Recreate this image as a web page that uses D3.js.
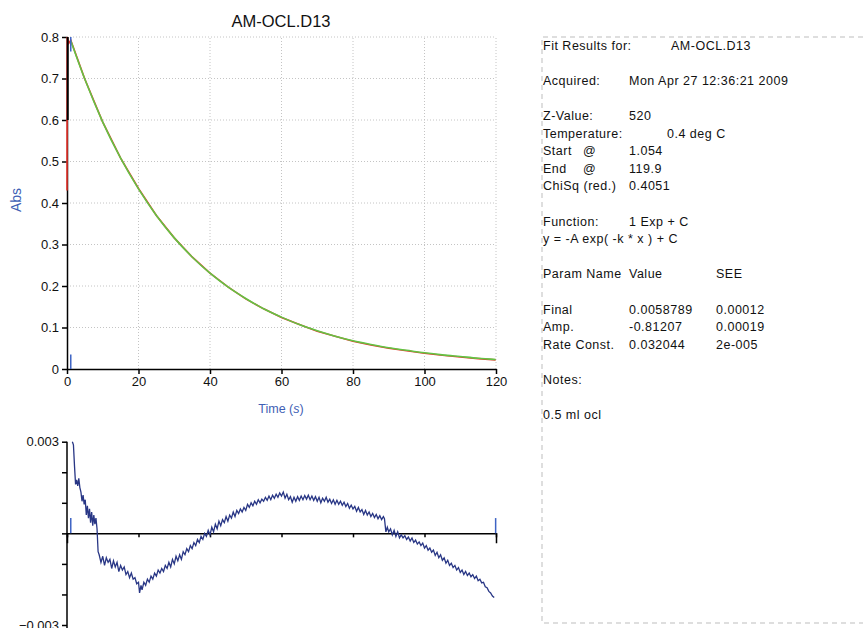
<!DOCTYPE html>
<html>
<head>
<meta charset="utf-8">
<script src="https://cdn.jsdelivr.net/npm/d3@7"></script>
<style>
  body { margin: 0; background: #fff; }
  text { font-family: "Liberation Sans", Arial, sans-serif; }
</style>
</head>
<body>
<div id="chart"></div>
<script>
// fitted curve
const fitTime = [1.054, 5, 10, 15, 20, 25, 30, 35, 40, 45, 50, 55, 60, 65, 70, 75, 80, 85, 90, 95, 100, 105, 110, 115, 119.9];
const fitAbs = [0.791, 0.698, 0.595, 0.508, 0.434, 0.370, 0.316, 0.270, 0.231, 0.198, 0.170, 0.145, 0.125, 0.107, 0.092, 0.079, 0.068, 0.059, 0.051, 0.045, 0.039, 0.034, 0.030, 0.026, 0.023];

// raw trace (red), incl. the mixing spike at t = 0
const rawTime = [0, 0.05, 0.5, 1.054, 5, 10, 15, 20, 25, 30, 35, 40, 45, 50, 55, 60, 65, 70, 75, 80, 85, 90, 95, 100, 105, 110, 115, 119.9];
const rawAbs = [0.43, 0.80, 0.785, 0.792, 0.698, 0.595, 0.508, 0.435, 0.370, 0.316, 0.270, 0.231, 0.198, 0.169, 0.145, 0.124, 0.107, 0.091, 0.079, 0.067, 0.058, 0.050, 0.044, 0.038, 0.033, 0.029, 0.025, 0.022];

// dead-time segment (black)
const deadTime = [0.2, 0.2];
const deadAbs = [0.6, 0.8];

const startTime = 1.054, endTime = 119.9;

// residuals in units of 0.001 Abs
const resTime = [1.5, 1.8, 2.1, 2.4, 2.7, 3.0, 3.3, 3.6, 3.9, 4.2, 4.5, 4.8, 5.1, 5.4, 5.7, 6.0, 6.3, 6.6, 6.9, 7.2, 7.5, 7.8, 8.1, 8.4, 8.7,
  9, 9.5, 10, 10.5, 11, 11.5, 12, 12.5, 13, 13.5, 14, 14.5, 15, 15.5, 16, 16.5, 17, 17.5, 18, 18.5, 19, 19.5, 20, 20.3, 20.7, 21, 21.5,
  22, 22.5, 23, 23.5, 24, 24.5, 25, 25.5, 26, 26.5, 27, 27.5, 28, 28.5, 29, 29.5, 30, 30.5, 31, 31.5, 32, 32.5, 33, 33.5, 34, 34.5,
  35, 35.5, 36, 36.5, 37, 37.5, 38, 38.5, 39, 39.5, 40, 40.5, 41, 41.5, 42, 42.5, 43, 43.5, 44, 44.5, 45, 45.5, 46, 46.5, 47, 47.5,
  48, 48.5, 49, 49.5, 50, 50.5, 51, 51.5, 52, 52.5, 53, 53.5, 54, 54.5, 55, 55.5, 56, 56.5, 57, 57.5, 58, 58.5, 59, 59.5, 60, 60.5,
  61, 61.5, 62, 62.5, 63, 63.5, 64, 64.5, 65, 65.5, 66, 66.5, 67, 67.5, 68, 68.5, 69, 69.5, 70, 70.5, 71, 71.5, 72, 72.5, 73, 73.5,
  74, 74.5, 75, 75.5, 76, 76.5, 77, 77.5, 78, 78.5, 79, 79.5, 80, 80.5, 81, 81.5, 82, 82.5, 83, 83.5, 84, 84.5, 85, 85.5, 86, 86.5,
  87, 87.5, 88, 88.5, 88.8, 89.2, 89.6, 90, 90.5, 91, 91.5, 92, 92.5, 93, 93.5, 94, 94.5, 95, 95.5, 96, 96.5, 97, 97.5, 98, 98.5,
  99, 99.5, 100, 100.5, 101, 101.5, 102, 102.5, 103, 103.5, 104, 104.5, 105, 105.5, 106, 106.5, 107, 107.5, 108, 108.5, 109, 109.5,
  110, 110.5, 111, 111.5, 112, 112.5, 113, 113.5, 114, 114.5, 115, 115.5, 116, 116.5, 117, 117.5, 118, 118.5, 119, 119.5];
const resMilli = [3.0, 2.9, 2.2, 1.6, 1.75, 1.55, 1.8, 1.5, 1.35, 1.05, 1.25, 0.95, 1.1, 0.6, 0.9, 0.5, 0.8, 0.35, 0.7, 0.25, 0.6, 0.3, 0.5, 0.15, -0.6,
  -0.70, -0.95, -0.75, -1.05, -0.80, -0.95, -0.85, -1.15, -0.90, -1.10, -0.95, -1.25, -1.05, -1.20, -1.10, -1.35, -1.25, -1.45, -1.30, -1.50, -1.45, -1.65, -1.60, -1.95, -1.70, -1.85, -1.60,
  -1.70, -1.50, -1.60, -1.40, -1.50, -1.30, -1.40, -1.20, -1.30, -1.15, -1.25, -1.05, -1.15, -0.95, -1.10, -0.85, -1.00, -0.75, -0.90, -0.70, -0.85, -0.60, -0.70, -0.50, -0.60, -0.40,
  -0.50, -0.30, -0.40, -0.20, -0.30, -0.10, -0.20, 0.00, -0.10, 0.10, -0.05, 0.20, 0.05, 0.30, 0.15, 0.40, 0.25, 0.45, 0.35, 0.55, 0.40, 0.60, 0.50, 0.70, 0.55, 0.75,
  0.65, 0.80, 0.70, 0.85, 0.75, 0.95, 0.85, 1.00, 0.90, 1.05, 0.95, 1.10, 1.00, 1.12, 1.05, 1.18, 1.08, 1.22, 1.10, 1.25, 1.15, 1.28, 1.18, 1.32, 1.22, 1.35,
  1.15, 1.28, 1.10, 1.20, 1.02, 1.18, 1.05, 1.20, 1.08, 1.22, 1.10, 1.24, 1.12, 1.25, 1.10, 1.22, 1.08, 1.20, 1.05, 1.18, 1.00, 1.15, 1.05, 1.18, 1.02, 1.12,
  0.98, 1.10, 0.95, 1.08, 0.95, 1.05, 0.92, 1.02, 0.88, 0.98, 0.82, 0.92, 0.80, 0.88, 0.72, 0.85, 0.70, 0.78, 0.62, 0.75, 0.60, 0.70, 0.55, 0.65, 0.52, 0.62,
  0.48, 0.58, 0.45, 0.55, 0.48, 0.05, 0.20, 0.05, 0.15, -0.05, 0.10, -0.10, 0.05, -0.15, -0.05, -0.15, -0.08, -0.20, -0.12, -0.25, -0.15, -0.30, -0.22, -0.35, -0.28,
  -0.40, -0.32, -0.48, -0.40, -0.55, -0.48, -0.62, -0.55, -0.72, -0.62, -0.80, -0.70, -0.88, -0.80, -0.98, -0.88, -1.05, -0.98, -1.12, -1.05, -1.20, -1.12,
  -1.28, -1.20, -1.35, -1.25, -1.38, -1.30, -1.42, -1.35, -1.48, -1.40, -1.55, -1.50, -1.62, -1.60, -1.75, -1.78, -1.90, -1.95, -2.05, -2.10];

const xTicks = [0, 20, 40, 60, 80, 100, 120];
const yTicks = [0, 0.1, 0.2, 0.3, 0.4, 0.5, 0.6, 0.7, 0.8];
const resTicks = [-3, -2, -1, 0, 1, 2, 3];

// fit report text: [row, column, text]
const report = [
  [0, "a", "Fit Results for:"], [0, "e", "AM-OCL.D13"],
  [2, "a", "Acquired:"], [2, "c", "Mon Apr 27 12:36:21 2009"],
  [4, "a", "Z-Value:"], [4, "c", "520"],
  [5, "a", "Temperature:"], [5, "d", "0.4 deg C"],
  [6, "a", "Start"], [6, "b", "@"], [6, "c", "1.054"],
  [7, "a", "End"], [7, "b", "@"], [7, "c", "119.9"],
  [8, "a", "ChiSq (red.)"], [8, "c", "0.4051"],
  [10, "a", "Function:"], [10, "c", "1 Exp + C"],
  [11, "a", "y = -A exp( -k * x ) + C"],
  [13, "a", "Param Name"], [13, "c", "Value"], [13, "f", "SEE"],
  [15, "a", "Final"], [15, "c", "0.0058789"], [15, "f", "0.00012"],
  [16, "a", "Amp."], [16, "c", "-0.81207"], [16, "f", "0.00019"],
  [17, "a", "Rate Const."], [17, "c", "0.032044"], [17, "f", "2e-005"],
  [19, "a", "Notes:"],
  [21, "a", "0.5 ml ocl"]
];

const width = 863, height = 628;

const svg = d3.select("#chart")
  .append("svg")
  .attr("width", width)
  .attr("height", height);

svg.append("rect")
  .attr("width", width)
  .attr("height", height)
  .attr("fill", "#fff");

const xScale = d3.scaleLinear().domain([0, 120]).range([67, 496]);
const yScale = d3.scaleLinear().domain([0, 0.8]).range([369, 37]);
const rScale = d3.scaleLinear().domain([-3, 3]).range([625, 441.7]);

// grid
svg.append("g")
  .selectAll("line")
  .data(xTicks.slice(1))
  .join("line")
  .attr("x1", d => xScale(d)).attr("x2", d => xScale(d))
  .attr("y1", yScale(0)).attr("y2", yScale(0.8))
  .attr("stroke", "#c4c4c4")
  .attr("stroke-dasharray", "1,2");

svg.append("g")
  .selectAll("line")
  .data(yTicks.slice(1))
  .join("line")
  .attr("x1", xScale(0)).attr("x2", xScale(120))
  .attr("y1", d => yScale(d)).attr("y2", d => yScale(d))
  .attr("stroke", "#c4c4c4")
  .attr("stroke-dasharray", "1,2");

// axes
function styleAxis(g) {
  g.selectAll("path, line").attr("stroke", "#000").attr("stroke-width", 1.5);
  g.selectAll("text")
    .attr("fill", "#111")
    .style("font-size", "13px")
    .style("font-family", "'Liberation Sans', Arial, sans-serif");
}

svg.append("g")
  .attr("transform", `translate(0,${yScale(0)})`)
  .call(d3.axisBottom(xScale).tickValues(xTicks).tickSize(5).tickSizeOuter(0).tickPadding(3))
  .call(styleAxis);

svg.append("g")
  .attr("transform", `translate(${xScale(0)},0)`)
  .call(d3.axisLeft(yScale).tickValues(yTicks).tickSize(5).tickSizeOuter(0).tickPadding(3).tickFormat(d => d === 0 ? "0" : d3.format(".1f")(d)))
  .call(styleAxis);

// traces
const line = d3.line().x(d => xScale(d[0])).y(d => yScale(d[1]));

svg.append("path")
  .datum(d3.zip(rawTime, rawAbs))
  .attr("d", line)
  .attr("fill", "none")
  .attr("stroke", "#e8332b")
  .attr("stroke-width", 1.6);

svg.append("path")
  .datum(d3.zip(deadTime, deadAbs))
  .attr("d", line)
  .attr("fill", "none")
  .attr("stroke", "#000")
  .attr("stroke-width", 2);

svg.append("path")
  .datum(d3.zip(fitTime, fitAbs))
  .attr("d", line.curve(d3.curveMonotoneX))
  .attr("fill", "none")
  .attr("stroke", "#62c444")
  .attr("stroke-width", 1.6);

// start cursor marks
svg.append("g")
  .selectAll("line")
  .data([[0, 0.035], [0.765, 0.8]])
  .join("line")
  .attr("x1", xScale(startTime)).attr("x2", xScale(startTime))
  .attr("y1", d => yScale(d[0])).attr("y2", d => yScale(d[1]))
  .attr("stroke", "#3d63c4")
  .attr("stroke-width", 1.5);

// titles
svg.append("text")
  .attr("x", 281).attr("y", 27)
  .attr("text-anchor", "middle")
  .style("font-size", "16.5px")
  .attr("fill", "#111")
  .text("AM-OCL.D13");

svg.append("text")
  .attr("x", 281).attr("y", 413)
  .attr("text-anchor", "middle")
  .style("font-size", "12.5px")
  .attr("fill", "#3f5fb5")
  .html('Time (<tspan font-style="italic">s</tspan>)');

svg.append("text")
  .attr("transform", "translate(21,200) rotate(-90)")
  .attr("text-anchor", "middle")
  .style("font-size", "14px")
  .attr("fill", "#3f5fb5")
  .text("Abs");

// residual plot
svg.append("g")
  .attr("transform", `translate(${xScale(0)},0)`)
  .call(d3.axisLeft(rScale).tickValues(resTicks).tickSize(5).tickSizeOuter(0).tickPadding(3)
    .tickFormat(d => Math.abs(d) === 3 ? d3.format(".3f")(d / 1000) : ""))
  .call(styleAxis)
  .call(g => g.select(".domain").attr("d", `M0,${rScale(3)}V${height}`));

svg.append("g")
  .attr("transform", `translate(0,${rScale(0)})`)
  .call(d3.axisBottom(xScale).tickValues(xTicks).tickSizeInner(4).tickSizeOuter(10).tickFormat(""))
  .call(styleAxis);

svg.append("g")
  .selectAll("line")
  .data([startTime, endTime])
  .join("line")
  .attr("x1", d => xScale(d)).attr("x2", d => xScale(d))
  .attr("y1", rScale(0)).attr("y2", rScale(0.5))
  .attr("stroke", "#3d63c4")
  .attr("stroke-width", 1.5);

svg.append("path")
  .datum(d3.zip(resTime, resMilli))
  .attr("d", d3.line().x(d => xScale(d[0])).y(d => rScale(d[1])))
  .attr("fill", "none")
  .attr("stroke", "#283685")
  .attr("stroke-width", 1.3);

// report panel
svg.append("path")
  .attr("d", `M${width},37H542V623H${width}`)
  .attr("fill", "none")
  .attr("stroke", "#bdbdbd")
  .attr("stroke-dasharray", "5,4");

const colX = { a: 543, b: 583, c: 629, d: 667, e: 671, f: 716 };

svg.append("g")
  .selectAll("text")
  .data(report)
  .join("text")
  .attr("x", d => colX[d[1]])
  .attr("y", d => 49.5 + d[0] * 17.6)
  .attr("fill", "#111")
  .style("font-size", "12.5px")
  .style("letter-spacing", "0.5px")
  .text(d => d[2]);
</script>
</body>
</html>
